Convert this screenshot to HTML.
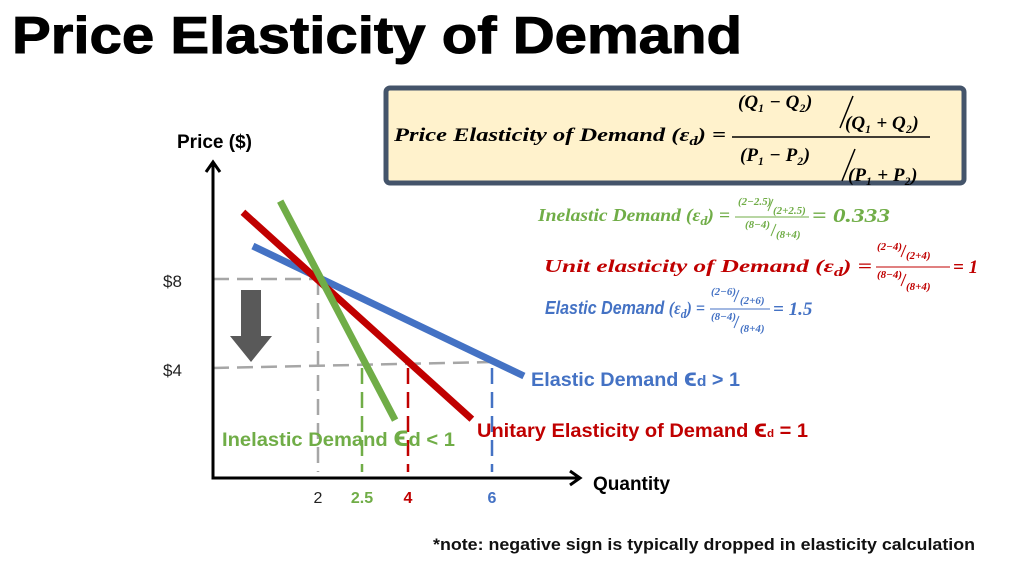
<!DOCTYPE html>
<html><head><meta charset="utf-8"><style>
html,body{margin:0;padding:0;background:#fff;width:1024px;height:565px;overflow:hidden}
svg{display:block}
.sf{font-family:"Liberation Serif",serif;font-weight:bold;font-style:italic}
.ss{font-family:"Liberation Sans",sans-serif}
</style></head><body>
<svg id="chart" width="1024" height="565" viewBox="0 0 1024 565" xmlns="http://www.w3.org/2000/svg">
<text x="12" y="53" class="ss" font-size="52" font-weight="bold" stroke="#000" stroke-width="1" textLength="730" lengthAdjust="spacingAndGlyphs">Price Elasticity of Demand</text>

<g>
<rect x="386" y="88" width="578" height="95" rx="4" fill="#fff2cc" stroke="#44546a" stroke-width="5"/>
<text class="sf" x="394" y="141" font-size="19" textLength="332" lengthAdjust="spacingAndGlyphs">Price Elasticity of Demand (ε<tspan font-size="13" dy="4">d</tspan><tspan dy="-4">) =</tspan></text>
<line x1="732" y1="137" x2="930" y2="137" stroke="#000" stroke-width="1.5"/>
<text class="sf" x="738" y="108" font-size="19">(Q₁ − Q₂)</text>
<line x1="840" y1="128" x2="853" y2="96" stroke="#000" stroke-width="1.5"/>
<text class="sf" x="845" y="129" font-size="19">(Q₁ + Q₂)</text>
<text class="sf" x="740" y="161" font-size="19">(P₁ − P₂)</text>
<line x1="842" y1="181" x2="855" y2="149" stroke="#000" stroke-width="1.5"/>
<text class="sf" x="848" y="181" font-size="19">(P₁ + P₂)</text>
</g>

<g fill="#70ad47">
<text class="sf" x="538" y="221" font-size="18" textLength="192" lengthAdjust="spacingAndGlyphs">Inelastic Demand (ε<tspan font-size="13" dy="4">d</tspan><tspan dy="-4">) =</tspan></text>
<text class="sf" x="738" y="205" font-size="11">(2−2.5)</text>
<line x1="768" y1="211" x2="773" y2="199" stroke="#70ad47"/>
<text class="sf" x="773" y="214" font-size="11">(2+2.5)</text>
<line x1="735" y1="217" x2="809" y2="217" stroke="#70ad47"/>
<text class="sf" x="745" y="228" font-size="11">(8−4)</text>
<line x1="771" y1="236" x2="776" y2="224" stroke="#70ad47"/>
<text class="sf" x="776" y="238" font-size="11">(8+4)</text>
<text class="sf" x="812" y="222" font-size="20" textLength="78" lengthAdjust="spacingAndGlyphs">= 0.333</text>
</g>
<g fill="#c00000">
<text class="sf" x="544" y="272" font-size="18" textLength="328" lengthAdjust="spacingAndGlyphs">Unit elasticity of Demand (ε<tspan font-size="13" dy="4">d</tspan><tspan dy="-4">) =</tspan></text>
<text class="sf" x="877" y="250" font-size="11">(2−4)</text>
<line x1="901" y1="257" x2="906" y2="245" stroke="#c00000"/>
<text class="sf" x="906" y="259" font-size="11">(2+4)</text>
<line x1="876" y1="267" x2="950" y2="267" stroke="#c00000"/>
<text class="sf" x="877" y="278" font-size="11">(8−4)</text>
<line x1="901" y1="286" x2="906" y2="274" stroke="#c00000"/>
<text class="sf" x="906" y="290" font-size="11">(8+4)</text>
<text class="sf" x="953" y="273" font-size="19">= 1</text>
</g>
<g fill="#4472c4">
<text class="ss" x="545" y="314" font-size="18" font-weight="bold" font-style="italic" textLength="160" lengthAdjust="spacingAndGlyphs">Elastic Demand <tspan class="sf">(ε<tspan font-size="13" dy="4">d</tspan><tspan dy="-4">) =</tspan></tspan></text>
<text class="sf" x="711" y="295" font-size="11">(2−6)</text>
<line x1="734" y1="302" x2="739" y2="290" stroke="#4472c4"/>
<text class="sf" x="740" y="304" font-size="11">(2+6)</text>
<line x1="710" y1="309" x2="770" y2="309" stroke="#4472c4"/>
<text class="sf" x="711" y="320" font-size="11">(8−4)</text>
<line x1="734" y1="328" x2="739" y2="316" stroke="#4472c4"/>
<text class="sf" x="740" y="332" font-size="11">(8+4)</text>
<text class="sf" x="773" y="315" font-size="19">= 1.5</text>
</g>

<g id="plot"></g>

<text class="ss" x="177" y="148" font-size="19" font-weight="bold">Price ($)</text>
<text class="ss" x="593" y="490" font-size="19" font-weight="bold">Quantity</text>
<text class="ss" x="531" y="386" font-size="19" font-weight="bold" fill="#4472c4" textLength="209" lengthAdjust="spacingAndGlyphs">Elastic Demand <tspan font-size="26">ϵ</tspan><tspan font-size="15">d</tspan> &gt; 1</text>
<text class="ss" x="477" y="437" font-size="19" font-weight="bold" fill="#c00000" textLength="331" lengthAdjust="spacingAndGlyphs">Unitary Elasticity of Demand <tspan font-size="26">ϵ</tspan><tspan font-size="11">d</tspan> = 1</text>
<text class="ss" x="222" y="446" font-size="19" font-weight="bold" fill="#70ad47" textLength="233" lengthAdjust="spacingAndGlyphs">Inelastic Demand <tspan font-size="30">ϵ</tspan>d &lt; 1</text>
<text class="ss" x="433" y="550" font-size="17" font-weight="bold" fill="#111" textLength="542" lengthAdjust="spacingAndGlyphs">*note: negative sign is typically dropped in elasticity calculation</text>

<g>
<polygon points="241,290 261,290 261,336 272,336 251,362 230,336 241,336" fill="#595959"/>
</g>
</svg>
<script>
const priceTicks = [8, 4];
const priceTickLabels = ["$8", "$4"];
const qtyTicks = [2, 2.5, 4, 6];
const qtyTickLabels = ["2", "2.5", "4", "6"];
const qtyTickColors = ["#222", "#70ad47", "#c00000", "#4472c4"];
const seriesNames = ["inelastic", "unitary", "elastic"];
const seriesColors = ["#70ad47", "#c00000", "#4472c4"];
const inelasticQ = [1.28, 3.58];
const inelasticP = [11.5, 1.66];
const unitaryQ = [0.57, 5.52];
const unitaryP = [11.0, 1.7];
const elasticQ = [0.76, 6.76];
const elasticP = [9.48, 3.64];

const NS = "http://www.w3.org/2000/svg";
const qDom = [0, 2, 2.5, 4, 6, 8], qRng = [213, 318, 362, 408, 492, 576];
function xScale(q) {
  for (let i = 0; i < qDom.length - 1; i++) {
    if (q <= qDom[i + 1] || i === qDom.length - 2) {
      return qRng[i] + (q - qDom[i]) / (qDom[i + 1] - qDom[i]) * (qRng[i + 1] - qRng[i]);
    }
  }
}
function yScale(p) { return 457 - p * 22.25; }
const plot = document.getElementById("plot");
function mk(tag, attrs) {
  const e = document.createElementNS(NS, tag);
  for (const k in attrs) e.setAttribute(k, attrs[k]);
  plot.appendChild(e);
  return e;
}
const X0 = 213, Y0 = 478;
let g = mk("line", {x1: X0, y1: yScale(priceTicks[0]), x2: xScale(qtyTicks[0]), y2: yScale(priceTicks[0]), stroke: "#a6a6a6", "stroke-width": 2.5, "stroke-dasharray": "16,8"});


g = mk("line", {x1: X0, y1: yScale(priceTicks[1]), x2: xScale(qtyTicks[3]), y2: yScale(priceTicks[1]) - 6, stroke: "#a6a6a6", "stroke-width": 2.5, "stroke-dasharray": "16,8"});


const vColors = ["#a6a6a6", "#70ad47", "#c00000", "#4472c4"];
qtyTicks.forEach((q, i) => {
  const top = i === 0 ? yScale(priceTicks[0]) : yScale(priceTicks[1]);
  const l = mk("line", {x1: xScale(q), y1: top, x2: xScale(q), y2: Y0 - 6, stroke: vColors[i], "stroke-width": 2.5, "stroke-dasharray": "16,8"});
  
  
  const t = mk("text", {x: xScale(q), y: 503, "text-anchor": "middle", "font-family": "Liberation Sans, sans-serif", "font-size": 16, "font-weight": i ? "bold" : "normal", fill: qtyTickColors[i]});
  t.textContent = qtyTickLabels[i];
  
  
});
priceTicks.forEach((p, i) => {
  const t = mk("text", {x: 163, y: yScale(p) + 8, "font-family": "Liberation Sans, sans-serif", "font-size": 17, fill: "#222"});
  t.textContent = priceTickLabels[i];
  
  
});
let a = mk("path", {d: `M${X0},163 L${X0},${Y0} L578,${Y0}`, fill: "none", stroke: "#000", "stroke-width": 3});


a = mk("path", {d: `M${X0-7},172 L${X0},162 L${X0+7},172 M570,${Y0-7} L580,${Y0} L570,${Y0+7}`, fill: "none", stroke: "#000", "stroke-width": 3});


const Qs = [inelasticQ, unitaryQ, elasticQ], Ps = [inelasticP, unitaryP, elasticP];
[2, 1, 0].forEach(i => {
  const l = mk("line", {x1: xScale(Qs[i][0]), y1: yScale(Ps[i][0]), x2: xScale(Qs[i][1]), y2: yScale(Ps[i][1]), stroke: seriesColors[i], "stroke-width": 7});
  
  
});
</script>
</body></html>
